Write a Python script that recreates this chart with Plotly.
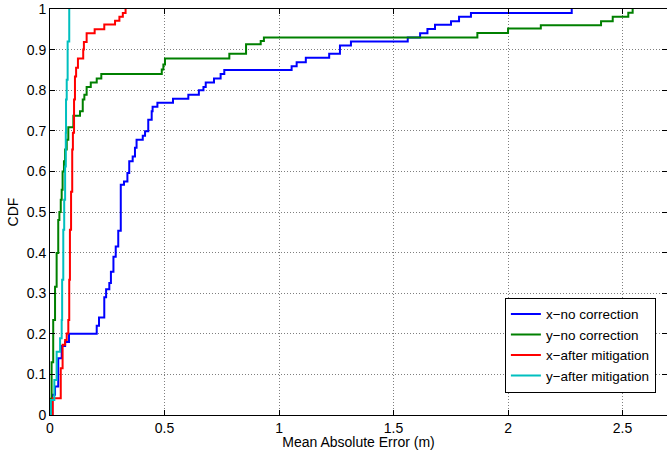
import plotly.graph_objects as go

# ---- data (step breakpoints of empirical CDFs) ----
x_nocorr_x = [0, 0.010, 0.022, 0.036, 0.051, 0.066, 0.083, 0.204, 0.214, 0.237, 0.245, 0.259, 0.266,
              0.277, 0.287, 0.298, 0.309, 0.323, 0.338, 0.346, 0.361, 0.371, 0.378, 0.405, 0.415,
              0.429, 0.444, 0.448, 0.469, 0.537, 0.604, 0.650, 0.670, 0.680, 0.716, 0.745, 0.761,
              1.055, 1.077, 1.117, 1.219, 1.266, 1.314, 1.562, 1.616, 1.648, 1.681, 1.751, 1.786,
              1.838, 2.278]
x_nocorr_y = [0, 0.050, 0.070, 0.140, 0.170, 0.180, 0.200, 0.220, 0.240, 0.290, 0.310, 0.325, 0.353,
              0.390, 0.415, 0.454, 0.567, 0.575, 0.596, 0.625, 0.637, 0.658, 0.678, 0.688, 0.699,
              0.727, 0.748, 0.759, 0.769, 0.779, 0.789, 0.800, 0.808, 0.819, 0.829, 0.840, 0.850,
              0.859, 0.869, 0.880, 0.890, 0.910, 0.920, 0.930, 0.940, 0.951, 0.961, 0.970, 0.981,
              0.990, 1.000]

y_nocorr_x = [0, 0.004, 0.007, 0.014, 0.022, 0.029, 0.036, 0.041, 0.047, 0.051, 0.055, 0.061, 0.066,
              0.073, 0.080, 0.102, 0.131, 0.143, 0.150, 0.160, 0.178, 0.204, 0.224, 0.488, 0.495,
              0.502, 0.783, 0.856, 0.920, 0.934, 1.866, 2.000, 2.143, 2.406, 2.457, 2.525, 2.544]
y_nocorr_y = [0, 0.040, 0.130, 0.234, 0.316, 0.399, 0.480, 0.500, 0.530, 0.555, 0.600, 0.625, 0.654,
              0.678, 0.709, 0.737, 0.748, 0.777, 0.789, 0.808, 0.819, 0.829, 0.840, 0.851, 0.863,
              0.878, 0.890, 0.913, 0.921, 0.930, 0.941, 0.952, 0.960, 0.970, 0.981, 0.991, 1.000]

x_mitig_x = [0, 0.012, 0.047, 0.055, 0.066, 0.073, 0.080, 0.084, 0.087, 0.092, 0.097, 0.100, 0.105,
             0.109, 0.114, 0.122, 0.145, 0.148, 0.160, 0.195, 0.237, 0.284, 0.303, 0.318, 0.330]
x_mitig_y = [0, 0.041, 0.115, 0.173, 0.185, 0.201, 0.234, 0.333, 0.456, 0.550, 0.654, 0.695, 0.777,
             0.834, 0.855, 0.878, 0.900, 0.919, 0.940, 0.950, 0.962, 0.971, 0.981, 0.990, 1.000]

y_mitig_x = [0, 0.004, 0.019, 0.029, 0.044, 0.051, 0.053, 0.058, 0.062, 0.066, 0.069, 0.070, 0.073,
             0.077, 0.084]
y_mitig_y = [0, 0.037, 0.086, 0.156, 0.189, 0.234, 0.333, 0.456, 0.530, 0.612, 0.695, 0.777, 0.826,
             0.920, 1.000]

series = [
    ("x\u2212no correction", x_nocorr_x, x_nocorr_y, "#0000ff"),
    ("y\u2212no correction", y_nocorr_x, y_nocorr_y, "#008000"),
    ("x\u2212after mitigation", x_mitig_x, x_mitig_y, "#ff0000"),
    ("y\u2212after mitigation", y_mitig_x, y_mitig_y, "#00bfbf"),
]

x_ticks = [0, 0.5, 1, 1.5, 2, 2.5]
x_ticklabels = ["0", "0.5", "1", "1.5", "2", "2.5"]
y_ticks = [0, 0.1, 0.2, 0.3, 0.4, 0.5, 0.6, 0.7, 0.8, 0.9, 1]
y_ticklabels = ["0", "0.1", "0.2", "0.3", "0.4", "0.5", "0.6", "0.7", "0.8", "0.9", "1"]

fig = go.Figure()
for name, xs, ys, col in series:
    fig.add_trace(go.Scatter(x=xs, y=ys, mode="lines", name=name,
                             line=dict(color=col, width=2, shape="hv")))

font_family = "Liberation Sans, Arial, Helvetica, sans-serif"
axis_common = dict(
    showline=True, linecolor="black", linewidth=1, mirror="ticks",
    ticks="inside", ticklen=5, tickcolor="black", tickwidth=1,
    showgrid=True, gridcolor="rgba(0,0,0,0.5)", griddash="1px,2px", gridwidth=1,
    zeroline=False, automargin=False,
    tickfont=dict(size=14, color="black", family=font_family),
)

fig.update_layout(
    width=667, height=450,
    margin=dict(l=50, r=0, t=9, b=35, autoexpand=False),
    paper_bgcolor="white", plot_bgcolor="white",
    font=dict(family=font_family, color="black", size=14),
    xaxis=dict(range=[0, 2.694], tickvals=x_ticks, ticktext=x_ticklabels,
               title=dict(text="Mean Absolute Error (m)", font=dict(size=14), standoff=0),
               **axis_common),
    yaxis=dict(range=[0, 1], tickvals=y_ticks, ticktext=y_ticklabels,
               title=dict(text="CDF", font=dict(size=14), standoff=4),
               **axis_common),
    legend=dict(x=0.982, y=0.055, xanchor="right", yanchor="bottom",
                bgcolor="white", bordercolor="black", borderwidth=1,
                font=dict(size=13.5, color="black"), tracegroupgap=0,
                itemwidth=30),
    showlegend=True,
)

fig.write_html("out.html", config={"displayModeBar": False},
               post_script="document.body.style.margin='0';document.body.style.overflow='hidden';")
